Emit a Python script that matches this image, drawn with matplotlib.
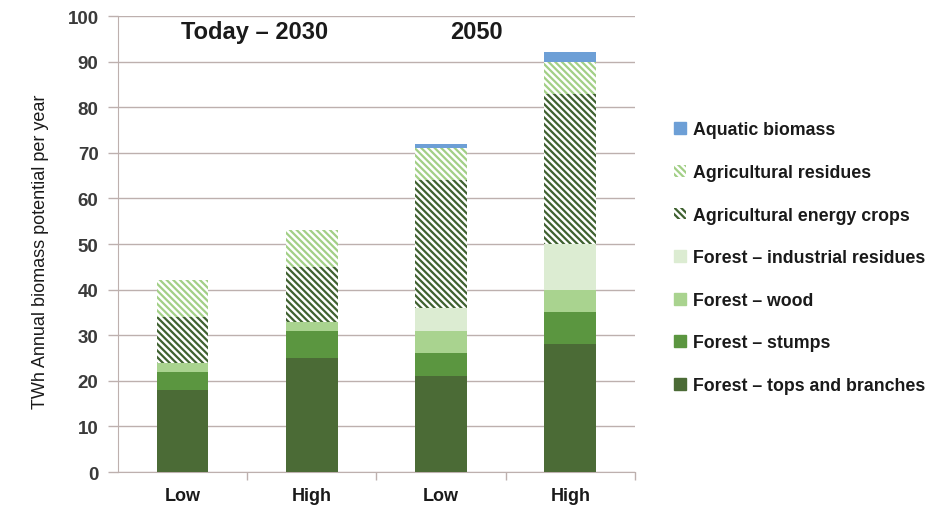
import matplotlib
matplotlib.use("Agg")
import matplotlib.pyplot as plt
from matplotlib.patches import Patch
import numpy as np

plt.rcParams['font.family'] = ['Liberation Sans', 'DejaVu Sans']
plt.rcParams['hatch.linewidth'] = 1.6

scenarios = ["Low", "High", "Low", "High"]
periods = ["Today – 2030", "2050"]

tops_branches = [18, 25, 21, 28]
stumps = [4, 6, 5, 7]
wood = [2, 2, 5, 5]
industrial_residues = [0, 0, 5, 10]
energy_crops = [10, 12, 28, 33]
agri_residues = [8, 8, 7, 7]
aquatic = [0, 0, 1, 2]

HATCH = "\\" * 5
series = [
    ("Forest – tops and branches", tops_branches, dict(color="#4b6b36")),
    ("Forest – stumps", stumps, dict(color="#5b9640")),
    ("Forest – wood", wood, dict(color="#a9d38f")),
    ("Forest – industrial residues", industrial_residues, dict(color="#dcecd2")),
    ("Agricultural energy crops", energy_crops,
     dict(facecolor="white", edgecolor="#3f6130", hatch=HATCH, linewidth=0)),
    ("Agricultural residues", agri_residues,
     dict(facecolor="white", edgecolor="#a2cf86", hatch=HATCH, linewidth=0)),
    ("Aquatic biomass", aquatic, dict(color="#6d9fd6")),
]

fig = plt.figure(figsize=(9.29, 5.06), dpi=100)
ax = fig.add_axes([0.127, 0.0652, 0.5565, 0.9012])

x = np.arange(len(scenarios))
bottom = np.zeros(len(scenarios))
handles = []
for name, vals, style in series:
    vals = np.array(vals, dtype=float)
    ax.bar(x, vals, width=0.4, bottom=bottom, zorder=3, **style)
    bottom += vals
    handles.append(Patch(label=name, **style))

grid_c = "#bdb0ae"
ax.set_ylim(0, 100)
ax.set_xlim(-0.5, len(scenarios) - 0.5)
ax.set_yticks(np.arange(0, 101, 10))
ax.yaxis.grid(True, color=grid_c, linewidth=1.0, zorder=0)
for s in ["top", "right"]:
    ax.spines[s].set_visible(False)
ax.spines["left"].set_color(grid_c)
ax.spines["bottom"].set_color(grid_c)
ax.tick_params(axis="y", colors=grid_c, length=7, width=1, labelcolor="#3a3a3a",
               labelsize=13.5, pad=7)
for lbl in ax.get_yticklabels():
    lbl.set_fontweight("bold")

# category labels under the bars, tick marks between categories
ax.set_xticks(x)
ax.set_xticklabels(scenarios, fontsize=13, fontweight="bold", color="#1a1a1a")
ax.tick_params(axis="x", length=0, pad=11)
ax.set_xticks(np.arange(0.5, len(scenarios)), minor=True)
ax.tick_params(axis="x", which="minor", length=6, width=1, colors=grid_c, direction="out")

ax.set_ylabel("TWh Annual biomass potential per year", fontsize=13, color="#1a1a1a")
ax.yaxis.set_label_coords(-0.134, 0.485)

ax.text(0.556, 96.7, periods[0], ha="center", va="center", fontsize=17,
        fontweight="bold", color="#1a1a1a")
ax.text(2.274, 96.7, periods[1], ha="center", va="center", fontsize=17,
        fontweight="bold", color="#1a1a1a")

leg = fig.legend(handles=handles[::-1], loc="upper left",
                 bbox_to_anchor=(0.718, 0.772), frameon=False,
                 fontsize=12.8, handlelength=0.65, handleheight=0.65,
                 handletextpad=0.4, labelspacing=1.44, borderaxespad=0)
for t in leg.get_texts():
    t.set_fontweight("bold")
    t.set_color("#1a1a1a")

fig.savefig("out.png", dpi=100)
